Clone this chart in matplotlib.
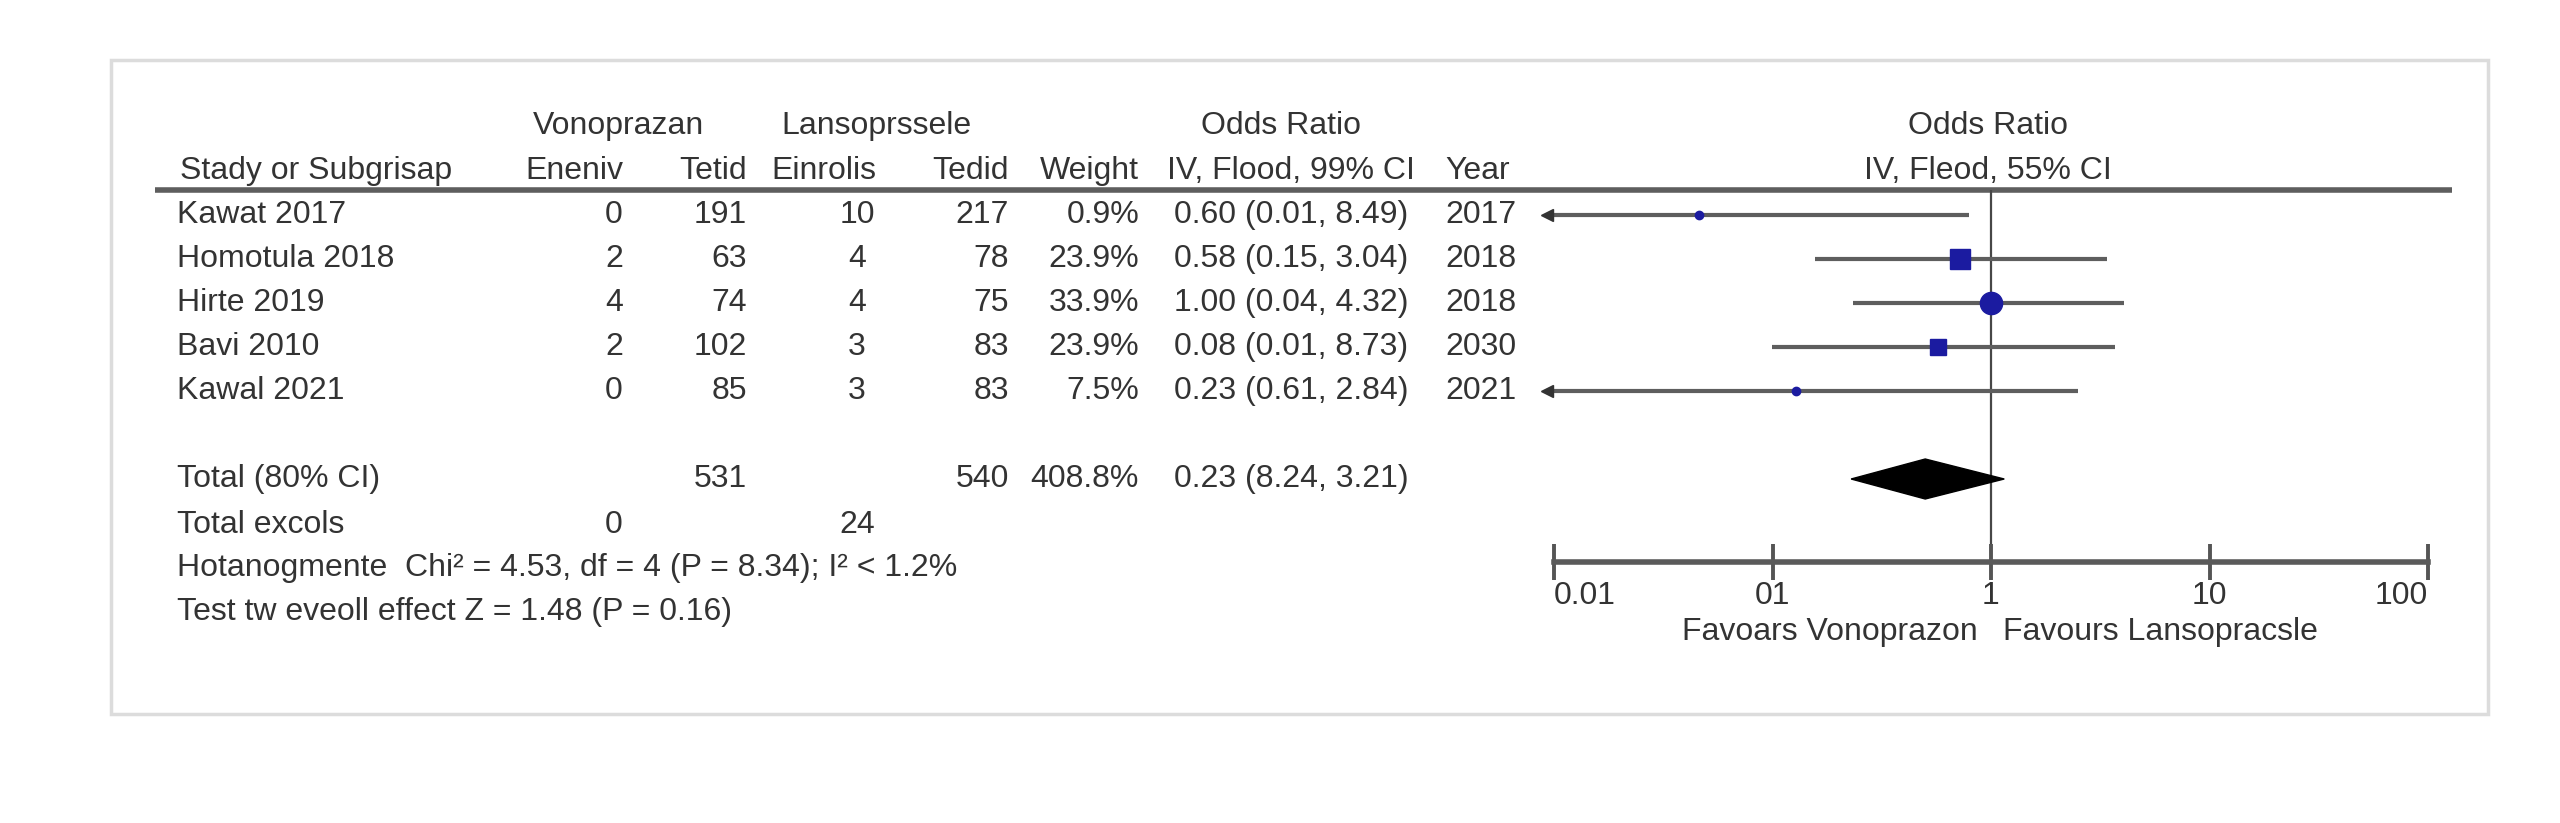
import matplotlib.pyplot as plt
import numpy as np
from matplotlib.patches import Rectangle
from matplotlib.ticker import NullLocator

plt.rcParams['font.family'] = ['Liberation Sans', 'DejaVu Sans']

#===============================================================================
#                                Data
#===============================================================================

studies     = ["Kawat 2017", "Homotula 2018", "Hirte 2019", "Bavi 2010", "Kawal 2021"]
vono_events = ["0", "2", "4", "2", "0"]
vono_total  = ["191", "63", "74", "102", "85"]
lans_events = ["10", "4", "4", "3", "3"]
lans_total  = ["217", "78", "75", "83", "83"]
weights     = ["0.9%", "23.9%", "33.9%", "23.9%", "7.5%"]
or_text     = ["0.60 (0.01, 8.49)", "0.58 (0.15, 3.04)", "1.00 (0.04, 4.32)",
               "0.08 (0.01, 8.73)", "0.23 (0.61, 2.84)"]
years       = ["2017", "2018", "2018", "2030", "2021"]

# plotted estimates
or_est = [0.046, 0.72, 1.00, 0.57, 0.128]
or_lo  = [0.005, 0.156, 0.234, 0.099, 0.005]
or_hi  = [0.79, 3.39, 4.05, 3.69, 2.51]

tot_vono   = "531"
tot_lans   = "540"
tot_weight = "408.8%"
tot_or     = "0.23 (8.24, 3.21)"
tot_est, tot_lo, tot_hi = 0.50, 0.229, 1.15
ev_vono, ev_lans = "0", "24"

het_text  = "Hotanogmente  Chi² = 4.53, df = 4 (P = 8.34); I² < 1.2%"
test_text = "Test tw eveoll effect Z = 1.48 (P = 0.16)"

ticks      = [0.01, 0.1, 1, 10, 100]
tick_labs  = ["0.01", "01", "1", "10", "100"]

#===============================================================================
#                                Plot
#===============================================================================

W, H   = 2560, 823
txt    = "#333333"
navy   = "#1b1ba0"
fs     = 23

fig = plt.figure(figsize=(W/100, H/100), dpi=100)

tab = fig.add_axes([0, 0, 1, 1])
tab.set_xlim(0, W)
tab.set_ylim(H, 0)
tab.axis('off')

tab.add_patch(Rectangle((111, 60), 2377, 654, fill=False, ec="#dcdcdc", lw=2.5))

def put(x, y, s, ha='left'):
    tab.text(x, y, s, ha=ha, va='center', fontsize=fs, color=txt)

# headers
put(618, 126, "Vonoprazan", 'center')
put(876, 126, "Lansoprssele", 'center')
put(1281, 126, "Odds Ratio", 'center')
put(1988, 126, "Odds Ratio", 'center')

put(180, 171, "Stady or Subgrisap")
put(623, 171, "Eneniv", 'right')
put(747, 171, "Tetid", 'right')
put(876, 171, "Einrolis", 'right')
put(1009, 171, "Tedid", 'right')
put(1139, 171, "Weight", 'right')
put(1167, 171, "IV, Flood, 99% CI")
put(1445, 171, "Year")
put(1988, 171, "IV, Fleod, 55% CI", 'center')

tab.hlines(190, 155, 2452, color="#5e5e5e", lw=4)

row_y = 215 + 44 * np.arange(len(studies))

for i, y in enumerate(row_y):
    put(177, y, studies[i])
    put(623, y, vono_events[i], 'right')
    put(747, y, vono_total[i], 'right')
    put(857, y, lans_events[i], 'center')
    put(1009, y, lans_total[i], 'right')
    put(1139, y, weights[i], 'right')
    put(1174, y, or_text[i])
    put(1445, y, years[i])

y_tot = 479
put(177, y_tot, "Total (80% CI)")
put(747, y_tot, tot_vono, 'right')
put(1009, y_tot, tot_lans, 'right')
put(1139, y_tot, tot_weight, 'right')
put(1174, y_tot, tot_or)

put(177, 525, "Total excols")
put(623, 525, ev_vono, 'right')
put(857, 525, ev_lans, 'center')
put(177, 568, het_text)
put(177, 612, test_text)

# forest panel
fx0, fx1 = 1554, 2428
ay_top, ay_bot = 190, 562
fp = fig.add_axes([fx0/W, (H-ay_bot)/H, (fx1-fx0)/W, (ay_bot-ay_top)/H])
fp.set_xscale('log')
fp.set_xlim(0.01, 100)
fp.set_ylim(ay_bot, ay_top)
fp.patch.set_alpha(0)

fp.axvline(1, color="#474747", lw=1.6, zorder=1)

lo_clip = np.maximum(or_lo, 0.01)
fp.hlines(row_y, lo_clip, or_hi, color="#5e5e5e", lw=3, zorder=2)

sizes   = [6, 14, 16, 12, 6]
markers = ['o', 's', 'o', 's', 'o']
for i, y in enumerate(row_y):
    fp.plot(or_est[i], y, marker=markers[i], ms=sizes[i], color=navy, mec=navy, zorder=3)
    if or_lo[i] < 0.01:
        fp.plot(0.0093, y, marker='<', ms=9, color="#333333", clip_on=False, zorder=3)

fp.fill([tot_lo, tot_est, tot_hi, tot_est], [y_tot, y_tot - 20, y_tot, y_tot + 20],
        color="black", zorder=3)

for s in ['left', 'right', 'top']:
    fp.spines[s].set_visible(False)
fp.spines['bottom'].set_color("#5a5a5a")
fp.spines['bottom'].set_linewidth(4)
fp.set_yticks([])
fp.set_xticks(ticks)
fp.set_xticklabels(tick_labs)
fp.xaxis.set_minor_locator(NullLocator())
fp.tick_params(axis='x', direction='inout', length=26, width=2.8, color="#555555",
               labelsize=fs, labelcolor=txt, pad=1)
labs = fp.get_xticklabels()
labs[0].set_ha('left')
labs[-1].set_ha('right')

put(1978, 632, "Favoars Vonoprazon", 'right')
put(2003, 632, "Favours Lansopracsle", 'left')

plt.savefig("out.png", dpi=100)
plt.close(fig)
